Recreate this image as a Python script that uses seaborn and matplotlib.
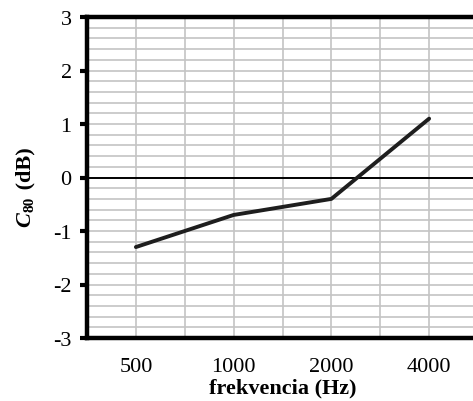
import matplotlib
matplotlib.use("Agg")
import matplotlib.pyplot as plt
import seaborn as sns
import pandas as pd
import numpy as np
from matplotlib.ticker import MultipleLocator

freqs = ["500", "1000", "2000", "4000"]
c80 = [-1.3, -0.7, -0.4, 1.1]

sns.set_theme(style="white")
plt.rcParams['font.family'] = ['Liberation Serif', 'DejaVu Serif']
plt.rcParams['text.color'] = 'black'
plt.rcParams['axes.labelcolor'] = 'black'
plt.rcParams['xtick.color'] = 'black'
plt.rcParams['ytick.color'] = 'black'

df = pd.DataFrame({"freq": freqs, "c80": c80})

W, H = 473, 402
fig = plt.figure(figsize=(W/100, H/100), dpi=100)
ax = fig.add_axes([87/W, 63/H, (478-87)/W, (339-18)/H])

ax.set_xlim(-0.5, 3.5)
ax.set_ylim(-3, 3)
ax.xaxis.set_minor_locator(MultipleLocator(0.5))
ax.yaxis.set_major_locator(MultipleLocator(1))
ax.yaxis.set_minor_locator(MultipleLocator(0.2))
ax.grid(which="both", axis="both", color="#c4c4c4", linewidth=1.2)
ax.set_axisbelow(True)
ax.axhline(0, color="black", linewidth=1.4, zorder=1.5)

sns.lineplot(data=df, x="freq", y="c80", ax=ax, color="#1e1e1e", linewidth=2.8, sort=False)
ax.set_xlim(-0.5, 3.5)
ax.set_ylim(-3, 3)

for s in ["left", "top", "bottom"]:
    ax.spines[s].set_color("black")
    ax.spines[s].set_linewidth(3.2)
ax.spines["right"].set_visible(False)

ax.tick_params(axis="y", which="major", direction="out", length=5, width=3, color="black",
               left=True, labelsize=16, pad=6, labelcolor="black")
ax.tick_params(axis="y", which="minor", length=0)
ax.tick_params(axis="x", which="both", length=0, labelsize=16, pad=14, labelcolor="black")
ax.set_yticks([-3, -2, -1, 0, 1, 2, 3])
ax.set_yticklabels(["-3", "-2", "-1", "0", "1", "2", "3"])

ax.set_xlabel("frekvencia (Hz)", fontsize=16, fontweight="bold", labelpad=1, color="black")
ax.set_ylabel("")

# y label built from pieces: italic C, subscript 80, then (dB)
renderer = fig.canvas.get_renderer()
xb = 30  # baseline x in px
y0 = H - 227  # start (bottom) in px
t1 = fig.text(xb/W, y0/H, "C", rotation=90, rotation_mode="anchor", ha="left", va="baseline",
              fontsize=16, fontstyle="italic", fontweight="bold")
e1 = t1.get_window_extent(renderer)
t2 = fig.text((xb + 4)/W, (e1.y1 + 0.5)/H, "80", rotation=90, rotation_mode="anchor", ha="left",
              va="baseline", fontsize=11, fontweight="bold")
e2 = t2.get_window_extent(renderer)
fig.text(xb/W, (e2.y1 + 1)/H, " (dB)", rotation=90, rotation_mode="anchor", ha="left",
         va="baseline", fontsize=16, fontweight="bold")

fig.savefig("out.png", dpi=100)
